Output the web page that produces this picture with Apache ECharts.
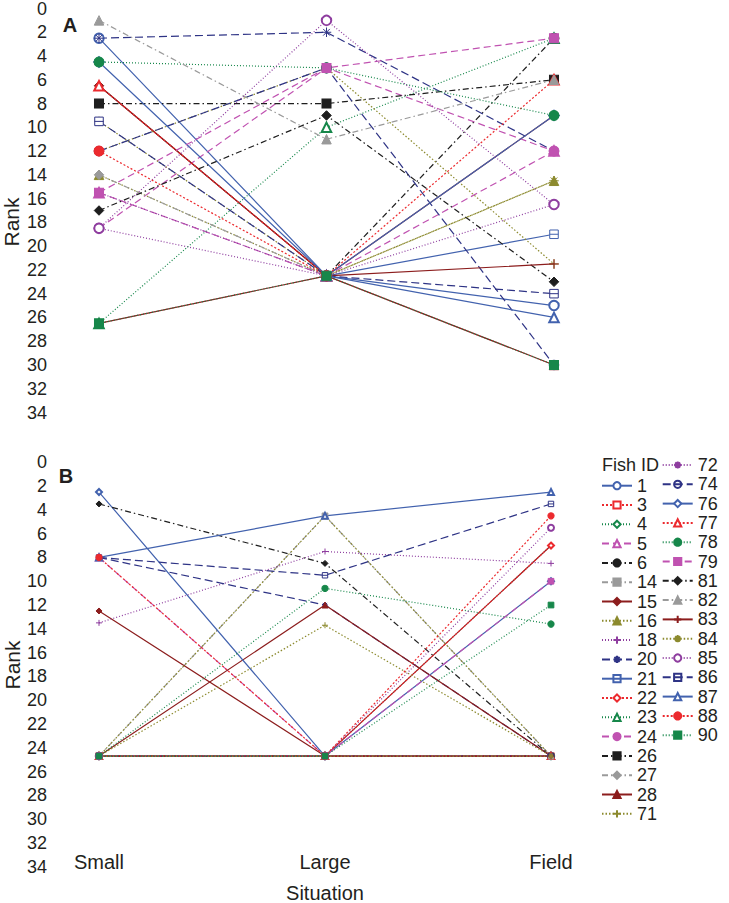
<!DOCTYPE html>
<html><head><meta charset="utf-8">
<script src="https://cdn.jsdelivr.net/npm/echarts@6/dist/echarts.min.js"></script>
<style>html,body{margin:0;padding:0;background:#fff}#c{width:729px;height:903px}</style>
</head><body><div id="c"></div>
<script>
// ---------- data ----------
const situations = ['Small', 'Large', 'Field'];
const fishIds = ['1','3','4','5','6','14','15','16','18','20','21','22','23','24','26','27','28',
                 '71','72','74','76','77','78','79','81','82','83','84','85','86','87','88','90'];
// Panel A ranks (aligned with fishIds)
const aSmall = [2.5,null,null,15.5,null,null,6.5,14,18.5,2.5,null,null,26.5,18.5,8,14,6.5,
                12,15.5,12,4.5,6.5,4.5,15.5,17,1,26.5,9.5,18.5,9.5,null,12,26.5];
const aLarge = [22.5,null,null,22.5,22.5,null,22.5,22.5,22.5,2,22.5,null,10,5,8,22.5,22.5,
                5,22.5,5,22.5,22.5,5,5,9,11,22.5,22.5,1,22.5,22.5,22.5,22.5];
const aField = [25,null,null,12,2.5,null,9,14.5,null,12,19,null,2.5,12,6,null,30,
                21.5,16.5,30,9,6,9,2.5,23,6,21.5,14.5,16.5,24,26,null,30];
// Panel B ranks (aligned with fishIds)
const bSmall = [24.7,24.7,24.7,8,24.7,24.7,12.5,24.7,13.5,8,24.7,24.7,24.7,24.7,24.7,24.7,24.7,
                24.7,24.7,24.7,2.5,24.7,24.7,24.7,3.5,24.7,24.7,24.7,24.7,8,8,8,24.7];
const bLarge = [24.7,24.7,24.7,24.7,24.7,4.5,24.7,4.5,7.5,12,24.7,24.7,24.7,24.7,24.7,24.7,12,
                13.7,24.7,24.7,24.7,24.7,10.6,24.7,8.5,24.7,24.7,24.7,24.7,9.5,4.5,24.7,24.7];
const bField = [24.7,24.7,24.7,24.7,24.7,24.7,7,24.7,8.5,24.7,24.7,7,24.7,24.7,24.7,24.7,24.7,
                24.7,24.7,24.7,10,24.7,13.6,10,24.7,24.7,24.7,24.7,5.5,3.5,2.5,4.5,12];
const rankMin = 0, rankMax = 34, rankStep = 2;

// ---------- styles ----------
const COLORS = {
  blue:'#4262ae', red:'#ec2a2e', green:'#16874a', magenta:'#c052b1', black:'#1e1e1e',
  gray:'#9a9a9a', darkred:'#8c1d1d', olive:'#8c8a2e', purple:'#8e3d9f', navy:'#2e3385'
};
const DASH = {
  blue:'solid', red:[2,2], green:[1,2], magenta:[7,4], black:[6,3,1.5,3],
  gray:[6,3,1.5,3], darkred:'solid', olive:[1.5,2], purple:[1,2], navy:[8,4]
};
const PLUS = 'path://M5,0L5,10M0,5L10,5';
const STAR = 'path://M5,0L5,10M0,5L10,5M1.5,1.5L8.5,8.5M8.5,1.5L1.5,8.5';
const CMINUS = 'path://M0,5A5,5,0,1,1,10,5A5,5,0,1,1,0,5ZM1,5L9,5';
const SMINUS = 'path://M0,0L10,0L10,10L0,10ZM0,5L10,5';
const fishColor = ['blue','red','green','magenta','black','gray','darkred','olive','purple','navy',
  'blue','red','green','magenta','black','gray','darkred','olive','purple','navy',
  'blue','red','green','magenta','black','gray','darkred','olive','purple','navy','blue','red','green'];
const fishMarker = ['oc','os','od','ot','fc','fs','fd','ft','plus','star','sminus','od','ot','fc','fs','fd','ft',
  'plus','star','cminus','od','ot','fc','fs','fd','ft','plus','star','oc','sminus','ot','fc','fs'];
// [symbol, filled, relative size]
const MARK = {
  oc:['emptyCircle',false,1.0], os:['emptyRect',false,0.85], od:['emptyDiamond',false,1.0], ot:['emptyTriangle',false,1.0],
  fc:['circle',true,1.05], fs:['rect',true,0.95], fd:['diamond',true,1.0], ft:['triangle',true,1.0],
  plus:[PLUS,true,1.0], star:[STAR,true,1.0], cminus:[CMINUS,false,1.0], sminus:[SMINUS,false,0.9]
};
const TXT = '#231f20';
const FONT = 'Liberation Sans';

const series = [];
const panels = [[aSmall,aLarge,aField,9.5],[bSmall,bLarge,bField,6]];
panels.forEach((p, pi) => {
  fishIds.forEach((id, i) => {
    const c = COLORS[fishColor[i]];
    const m = MARK[fishMarker[i]];
    const isPath = m[0].indexOf('path://') === 0;
    const filled = m[1];
    series.push({
      type:'line', name:id, xAxisIndex:pi, yAxisIndex:pi,
      data:[p[0][i], p[1][i], p[2][i]],
      symbol:m[0], symbolSize:p[3]*m[2], showSymbol:true, silent:true,
      lineStyle:{color:c, width:1.2, type:DASH[fishColor[i]]},
      itemStyle:{color: (isPath && !filled) ? '#fff' : c, borderColor:c, borderWidth:1},
      emphasis:{disabled:true}, animation:false
    });
  });
});

const yAxisBase = (gi) => ({
  type:'value', gridIndex:gi, min:rankMin, max:rankMax, interval:rankStep, inverse:true,
  axisLine:{show:false}, axisTick:{show:false}, splitLine:{show:false},
  axisLabel:{fontSize:18, color:TXT, fontFamily:FONT, margin:52, lineHeight:14}
});

const legendCommon = {
  orient:'vertical', itemWidth:30, itemHeight:9, itemGap:1.3, selectedMode:false,
  textStyle:{fontSize:18, color:TXT, fontFamily:FONT, lineHeight:18}, padding:0
};

const chart = echarts.init(document.getElementById('c'), null, {renderer:'svg'});
chart.setOption({
  animation:false,
  backgroundColor:'#fff',
  grid:[
    {left:99, top:8.5, width:455, height:404, containLabel:false, outerBoundsMode:'none'},
    {left:99, top:462.3, width:452, height:404.4, containLabel:false, outerBoundsMode:'none'}
  ],
  xAxis:[
    {type:'category', gridIndex:0, data:situations, boundaryGap:false,
     axisLine:{show:false}, axisTick:{show:false}, axisLabel:{show:false}, splitLine:{show:false}},
    {type:'category', gridIndex:1, data:situations, boundaryGap:false,
     axisLine:{show:false}, axisTick:{show:false}, splitLine:{show:false},
     axisLabel:{fontSize:20, color:TXT, fontFamily:FONT, margin:-15}}
  ],
  yAxis:[yAxisBase(0), yAxisBase(1)],
  legend:[
    Object.assign({}, legendCommon, {left:601, top:476.7, data:fishIds.slice(0,18)}),
    Object.assign({}, legendCommon, {left:661.7, top:456, data:fishIds.slice(18)})
  ],
  graphic:[
    {type:'text', x:70, y:25, style:{text:'A', font:'bold 20px "Liberation Sans"', fill:TXT, align:'center', verticalAlign:'middle'}},
    {type:'text', x:66, y:476, style:{text:'B', font:'bold 20px "Liberation Sans"', fill:TXT, align:'center', verticalAlign:'middle'}},
    {type:'text', x:11, y:222, rotation:Math.PI/2, style:{text:'Rank', font:'21px "Liberation Sans"', fill:TXT, align:'center', verticalAlign:'middle'}},
    {type:'text', x:12.5, y:665, rotation:Math.PI/2, style:{text:'Rank', font:'21px "Liberation Sans"', fill:TXT, align:'center', verticalAlign:'middle'}},
    {type:'text', x:325, y:893, style:{text:'Situation', font:'20px "Liberation Sans"', fill:TXT, align:'center', verticalAlign:'middle'}},
    {type:'text', x:602, y:465, style:{text:'Fish ID', font:'18px "Liberation Sans"', fill:TXT, align:'left', verticalAlign:'middle'}}
  ],
  series:series
});
</script></body></html>
